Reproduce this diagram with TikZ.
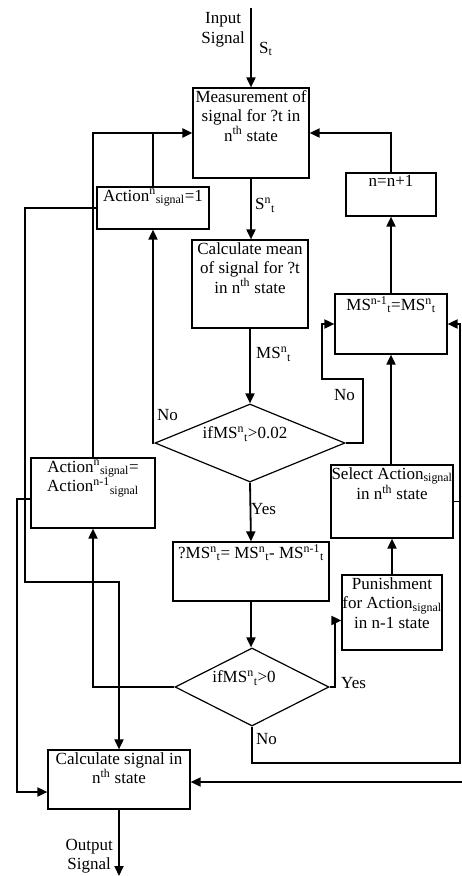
\documentclass[tikz,border=0pt]{standalone}
\usepackage{fontspec}
\setmainfont{Liberation Serif}
\usetikzlibrary{arrows.meta,shapes.geometric,calc}
\newcommand{\sps}[1]{\textsuperscript{#1}}
\newcommand{\sbs}[1]{\textsubscript{#1}}
\begin{document}
\begin{tikzpicture}[x=1pt,y=-1pt,
  box/.style={draw, line width=1.2pt, inner sep=0pt},
  dia/.style={draw, diamond, line width=1.2pt, inner sep=0pt},
  txt/.style={font=\fontsize{17}{19.5}\selectfont, align=center, inner sep=1pt},
  con/.style={line width=1.8pt},
  arr/.style={con, -{Triangle[length=10pt,width=9pt]}},
  thk/.style={line width=2.6pt}
]
\useasboundingbox (0,0) rectangle (462,876);
% boxes
\node[box, minimum width=116pt, minimum height=90pt] (meas) at (251,133) {};
\node[txt, anchor=north] (measT) at (251,89) {Measurement of\\signal for ?t in\\n\sps{th} state};
\node[box, minimum width=112pt, minimum height=42pt] (act1) at (153,208) {};
\node[txt, anchor=north] (act1T) at (153,188) {Action\sps{n}\sbs{signal}=1};
\node[box, minimum width=90pt, minimum height=43pt] (ninc) at (391,194.5) {};
\node[txt, anchor=north] (nincT) at (391,174) {n=n+1};
\node[box, minimum width=116pt, minimum height=88pt] (cmean) at (250,284) {};
\node[txt, anchor=north] (cmeanT) at (250,241) {Calculate mean\\of signal for ?t\\in n\sps{th} state};
\node[box, minimum width=112pt, minimum height=60pt] (msbox) at (391,324) {};
\node[txt, anchor=north] (msboxT) at (391,295) {MS\sps{n-1}\sbs{t}=MS\sps{n}\sbs{t}};
\node[dia, minimum width=190pt, minimum height=78pt] (d1) at (250,443) {};
\node[txt] (d1T) at (245,434) {ifMS\sps{n}\sbs{t}>0.02};
\node[box, minimum width=124pt, minimum height=70pt] (acteq) at (93,493) {};
\node[txt, anchor=north] (acteqT) at (93,459) {Action\sps{n}\sbs{signal}=\\Action\sps{n-1}\sbs{signal}};
\node[box, minimum width=122pt, minimum height=73pt] (sel) at (392,501.5) {};
\node[txt, anchor=north] (selT) at (392,466) {Select Action\sbs{signal}\\in n\sps{th} state};
\node[box, minimum width=156pt, minimum height=59pt] (dms) at (251,571.5) {};
\node[txt, anchor=north] (dmsT) at (251,543) {?MS\sps{n}\sbs{t}= MS\sps{n}\sbs{t}- MS\sps{n-1}\sbs{t}};
\node[box, minimum width=100pt, minimum height=75pt] (pun) at (392,612.5) {};
\node[txt, anchor=north] (punT) at (392,576) {Punishment\\for Action\sbs{signal}\\in n-1 state};
\node[dia, minimum width=154pt, minimum height=78pt] (d2) at (252,687) {};
\node[txt] (d2T) at (244,678) {ifMS\sps{n}\sbs{t}>0};
\node[box, minimum width=142pt, minimum height=59pt] (csig) at (119,779.5) {};
\node[txt, anchor=north] (csigT) at (119,751) {Calculate signal in\\n\sps{th} state};
% labels
\node[txt, anchor=east] (lin) at (246,30) {Input\\Signal};
\node[txt, anchor=west] (lst) at (258,49) {S\sbs{t}};
\node[txt, anchor=west] (lsn) at (254,205) {S\sps{n}\sbs{t}};
\node[txt, anchor=west] (lms) at (255,354) {MS\sps{n}\sbs{t}};
\node[txt, anchor=west] (lno1) at (156,415) {No};
\node[txt, anchor=west] (lno2) at (333,395) {No};
\node[txt, anchor=west] (lyes1) at (250,509) {Yes};
\node[txt, anchor=west] (lyes2) at (340,683) {Yes};
\node[txt, anchor=west] (lno3) at (255,739) {No};
\node[txt, anchor=east] (lout) at (114,856) {Output\\Signal};
% coordinates
\coordinate (in) at (251,8);
\coordinate (out) at (119,876);
\coordinate (rin) at (462,782);
\coordinate (r1) at (363,443);
\coordinate (r2) at (363,379);
\coordinate (r3) at (322,379);
\coordinate (y1) at (335,687);
\coordinate (n1) at (460,763);
\coordinate (l1) at (25,208);
\coordinate (l2) at (25,582);
\coordinate (l3) at (17,499);
% connectors
\draw[arr] (in) -- (meas.north);
\draw[arr] (meas.south) -- (meas.south |- cmean.north);
\draw[arr] (cmean.south) -- (cmean.south |- d1.north);
\draw[arr] (d1.west) -| (act1.south);
\draw[arr] (d1.east) -- (r1) -- (r2) -- (r3) |- (msbox.west);
\draw[arr] (d1.south) -- (dms.north);
\draw[arr] (dms.south) -- (dms.south |- d2.north);
\draw[arr] (d2.east) -- (y1) |- ([yshift=-8pt]pun.west);
\draw[arr] (pun.north) -- (sel.south);
\draw[arr] (sel.north) -- (msbox.south |- sel.north) -- (msbox.south);
\draw[arr] (msbox.north) -- (ninc.south);
\draw[arr] (ninc.north) |- (meas.east);
\draw[arr] (d2.south) |- (n1) |- (msbox.east);
\draw[con] (sel.east) -- (sel.east -| n1);
\draw[arr] (rin) -- (rin -| csig.east);
\draw[thk, -{Triangle[length=10pt,width=9pt]}] (acteq.north) |- (meas.west);
\draw[con] (act1.north) -- (act1.north |- meas.west);
\draw[arr] (act1.west) -- (l1) -- (l2) -| (csig.north);
\draw[arr] ([yshift=-6pt]acteq.west) -- (l3) |- ([yshift=-12.5pt]csig.west);
\draw[arr] (d2.west) -| (acteq.south);
\draw[arr] (csig.south) -- (out);
\end{tikzpicture}
\end{document}
